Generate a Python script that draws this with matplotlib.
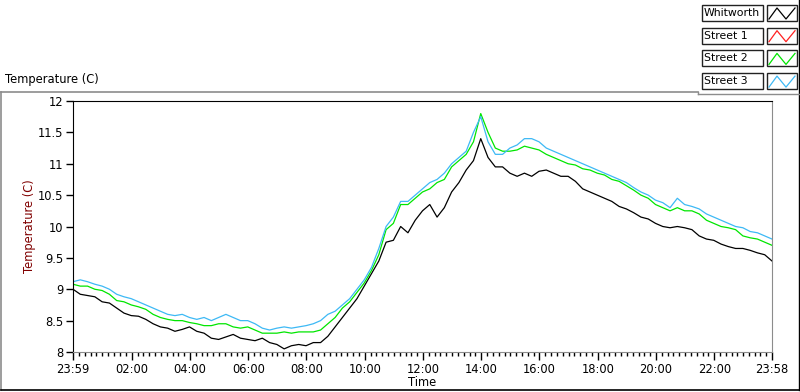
import numpy as np
import matplotlib
matplotlib.use('Agg')
import matplotlib.pyplot as plt
from matplotlib.lines import Line2D
from matplotlib.patches import Rectangle

# horas desde las 23:59, cada 15 minutos
horas = np.arange(97) * 0.25

whitworth = [9.0, 8.92, 8.9, 8.88, 8.8, 8.78, 8.7, 8.62, 8.58, 8.57, 8.52, 8.45,
             8.4, 8.38, 8.33, 8.36, 8.4, 8.33, 8.3, 8.22, 8.2, 8.24, 8.28, 8.22,
             8.2, 8.18, 8.22, 8.15, 8.12, 8.05, 8.1, 8.12, 8.1, 8.15, 8.15, 8.25,
             8.4, 8.55, 8.7, 8.85, 9.05, 9.25, 9.45, 9.75, 9.78, 10.0, 9.9, 10.1,
             10.25, 10.35, 10.15, 10.3, 10.55, 10.7, 10.9, 11.05, 11.4, 11.1, 10.95, 10.95,
             10.85, 10.8, 10.85, 10.8, 10.88, 10.9, 10.85, 10.8, 10.8, 10.72, 10.6, 10.55,
             10.5, 10.45, 10.4, 10.32, 10.28, 10.22, 10.15, 10.12, 10.05, 10.0, 9.98, 10.0,
             9.98, 9.95, 9.85, 9.8, 9.78, 9.72, 9.68, 9.65, 9.65, 9.62, 9.58, 9.55, 9.45]

street1 = []  # sin datos visibles

street2 = [9.08, 9.05, 9.05, 9.0, 8.98, 8.92, 8.82, 8.8, 8.75, 8.72, 8.68, 8.6,
           8.55, 8.52, 8.5, 8.5, 8.47, 8.45, 8.42, 8.42, 8.45, 8.45, 8.4, 8.38,
           8.4, 8.35, 8.3, 8.3, 8.3, 8.32, 8.3, 8.32, 8.32, 8.32, 8.35, 8.45,
           8.55, 8.7, 8.8, 8.95, 9.1, 9.3, 9.55, 9.95, 10.05, 10.35, 10.35, 10.45,
           10.55, 10.6, 10.7, 10.75, 10.95, 11.05, 11.15, 11.35, 11.8, 11.5, 11.25, 11.2,
           11.2, 11.22, 11.28, 11.25, 11.22, 11.15, 11.1, 11.05, 11.0, 10.98, 10.92, 10.9,
           10.85, 10.82, 10.75, 10.72, 10.65, 10.58, 10.5, 10.45, 10.35, 10.3, 10.25, 10.3,
           10.25, 10.25, 10.2, 10.1, 10.05, 10.0, 9.98, 9.95, 9.85, 9.82, 9.8, 9.75, 9.7]

street3 = [9.12, 9.15, 9.12, 9.08, 9.05, 9.0, 8.92, 8.88, 8.85, 8.8, 8.75, 8.7,
           8.65, 8.6, 8.58, 8.6, 8.55, 8.52, 8.55, 8.5, 8.55, 8.6, 8.55, 8.5,
           8.5, 8.45, 8.38, 8.35, 8.38, 8.4, 8.38, 8.4, 8.42, 8.45, 8.5, 8.6,
           8.65, 8.75, 8.85, 9.0, 9.15, 9.35, 9.65, 10.0, 10.15, 10.4, 10.4, 10.5,
           10.6, 10.7, 10.75, 10.85, 11.0, 11.1, 11.2, 11.5, 11.75, 11.35, 11.15, 11.15,
           11.25, 11.3, 11.4, 11.4, 11.35, 11.25, 11.2, 11.15, 11.1, 11.05, 11.0, 10.95,
           10.9, 10.85, 10.8, 10.75, 10.7, 10.62, 10.55, 10.5, 10.42, 10.38, 10.3, 10.45,
           10.35, 10.32, 10.28, 10.2, 10.15, 10.1, 10.05, 10.0, 9.98, 9.92, 9.9, 9.85, 9.8]

nombres = ['Whitworth', 'Street 1', 'Street 2', 'Street 3']
colores = ['black', '#ff2020', '#00e600', '#3db9f5']
etiquetas_x = ['23:59', '02:00', '04:00', '06:00', '08:00', '10:00', '12:00',
               '14:00', '16:00', '18:00', '20:00', '22:00', '23:58']
ticks_y = [8, 8.5, 9, 9.5, 10, 10.5, 11, 11.5, 12]

plt.rcParams['font.family'] = ['DejaVu Sans']
fig = plt.figure(figsize=(8, 3.92), dpi=100)
W, H = 800, 392

def px(x, y):
    return x / W, 1 - y / H

# marco exterior
gris = '#8c8c8c'
fig.add_artist(Line2D([px(1, 0)[0], px(698, 0)[0]], [px(0, 92)[1]] * 2, color=gris, lw=1.2))
fig.add_artist(Line2D([px(1, 0)[0]] * 2, [px(0, 92)[1], px(0, 390)[1]], color=gris, lw=1.2))
fig.add_artist(Line2D([px(1, 0)[0], px(799, 0)[0]], [px(0, 390)[1]] * 2, color='black', lw=1.2))
fig.add_artist(Line2D([px(799, 0)[0]] * 2, [px(0, 0)[1], px(0, 390)[1]], color='black', lw=1.0))
fig.add_artist(Line2D([px(698, 0)[0]] * 2, [px(0, 92)[1], px(0, 94)[1]], color=gris, lw=1.0))
fig.add_artist(Line2D([px(698, 0)[0], px(799, 0)[0]], [px(0, 94)[1]] * 2, color=gris, lw=1.0))

fig.text(*px(5, 80), 'Temperature (C)', fontsize=8.3, va='center', ha='left')

ax = fig.add_axes([73 / W, 1 - 352 / H, (772 - 73) / W, (352 - 101) / H])
series = [whitworth, street1, street2, street3]
for nombre, valores, color in zip(nombres, series, colores):
    if len(valores):
        ax.plot(horas[:len(valores)], valores, color=color, lw=0.9)

ax.set_xlim(0, 24)
ax.set_ylim(8, 12)
mayores = [0] + [2 + 1 / 60 + 2 * k for k in range(11)] + [24]
ax.set_xticks(mayores)
ax.set_xticklabels(etiquetas_x, fontsize=8.3)
menores = []
for a, b in zip(mayores[:-1], mayores[1:]):
    menores += list(np.linspace(a, b, 11)[1:-1])
ax.set_xticks(menores, minor=True)
ax.set_yticks(ticks_y)
ax.set_yticklabels(['8', '8.5', '9', '9.5', '10', '10.5', '11', '11.5', '12'], fontsize=8.3)
ax.tick_params(axis='x', which='major', length=6, width=1, pad=2, direction='out')
ax.tick_params(axis='x', which='minor', length=3, width=1, direction='out')
ax.tick_params(axis='y', length=5, width=1, pad=2)
ax.spines['left'].set_color('black')
ax.spines['top'].set_color('black')
ax.spines['right'].set_color(gris)
ax.spines['bottom'].set_color(gris)
ax.set_xlabel('Time', fontsize=8.3, labelpad=0)
ax.set_ylabel('Temperature (C)', fontsize=8.3, color='#800000', labelpad=1)

# leyenda estilo panel
for i, (nombre, color) in enumerate(zip(nombres, colores)):
    y0 = 5 + i * 22.7
    fig.add_artist(Rectangle(px(702, y0 + 16), 61 / W, 16 / H, fill=False, ec='#222222', lw=1.0))
    fig.text(*px(704, y0 + 8), nombre, fontsize=7.8, va='center', ha='left')
    fig.add_artist(Rectangle(px(767, y0 + 16), 30 / W, 16 / H, fill=False, ec='#222222', lw=1.0))
    xs = [769, 777, 786, 795]
    ys = [y0 + 14, y0 + 3, y0 + 14, y0 + 3]
    fig.add_artist(Line2D([px(x, 0)[0] for x in xs], [px(0, y)[1] for y in ys], color=color, lw=0.9))

fig.savefig('out.png', dpi=100)
